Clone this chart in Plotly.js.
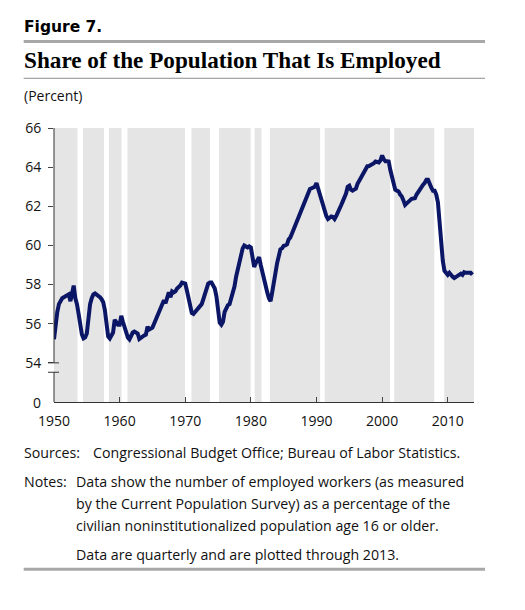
<!DOCTYPE html>
<html>
<head>
<meta charset="utf-8">
<script src="https://cdn.plot.ly/plotly-3.0.1.min.js"></script>
<style>
  html, body { margin: 0; padding: 0; background: #ffffff; }
  #chart { width: 525px; height: 610px; }
</style>
</head>
<body>
<div id="chart"></div>
<script>
// ---- Data (quarterly, 1950 Q1 through 2013 Q4) ----
const firstYear = 1950;
const employmentRate = [
  55.2, 56.0, 56.6, 57.0,     // 1950
  57.2, 57.3, 57.35, 57.4,    // 1951
  57.4, 57.5, 57.15, 57.5,    // 1952
  57.95, 57.3, 57.0, 56.5,    // 1953
  55.9, 55.45, 55.25, 55.3,   // 1954
  55.5, 56.3, 57.0, 57.3,     // 1955
  57.5, 57.55, 57.5, 57.45,   // 1956
  57.35, 57.25, 57.1, 56.7,   // 1957
  55.9, 55.35, 55.25, 55.4,   // 1958
  55.55, 56.2, 56.1, 55.95,   // 1959
  55.95, 56.4, 56.1, 55.8,    // 1960
  55.55, 55.3, 55.2, 55.4,    // 1961
  55.55, 55.6, 55.55, 55.5,   // 1962
  55.22, 55.3, 55.38, 55.4,   // 1963
  55.44, 55.85, 55.7, 55.75,  // 1964
  55.8, 56.0, 56.2, 56.5,     // 1965
  56.7, 56.8, 57.0, 57.2,     // 1966
  57.05, 57.3, 57.6, 57.35,   // 1967
  57.65, 57.6, 57.65, 57.8,   // 1968
  57.85, 57.95, 58.1, 58.1,   // 1969
  58.05, 57.7, 57.3, 56.9,    // 1970
  56.55, 56.5, 56.6, 56.7,    // 1971
  56.8, 56.9, 57.0, 57.25,    // 1972
  57.5, 57.8, 58.05, 58.1,    // 1973
  58.1, 57.95, 57.8, 57.4,    // 1974
  56.55, 56.05, 55.95, 56.1,  // 1975
  56.6, 56.85, 56.95, 57.0,   // 1976
  57.25, 57.6, 57.9, 58.4,    // 1977
  58.8, 59.25, 59.5, 59.85,   // 1978
  60.0, 59.95, 59.9, 59.95,   // 1979
  59.9, 59.4, 58.9, 59.1,     // 1980
  59.25, 59.4, 59.0, 58.6,    // 1981
  58.2, 57.9, 57.6, 57.3,     // 1982
  57.15, 57.6, 58.0, 58.6,    // 1983
  59.1, 59.6, 59.8, 59.85,    // 1984
  59.98, 60.0, 60.05, 60.3,   // 1985
  60.4, 60.6, 60.8, 61.0,     // 1986
  61.2, 61.45, 61.7, 61.85,   // 1987
  62.0, 62.2, 62.45, 62.7,    // 1988
  62.88, 62.92, 62.95, 63.0,  // 1989
  63.18, 62.9, 62.6, 62.25,   // 1990
  61.9, 61.65, 61.5, 61.35,   // 1991
  61.4, 61.48, 61.45, 61.35,  // 1992
  61.5, 61.65, 61.85, 62.05,  // 1993
  62.25, 62.45, 62.65, 63.0,  // 1994
  63.05, 62.85, 62.8, 62.85,  // 1995
  62.9, 63.15, 63.35, 63.45,  // 1996
  63.6, 63.75, 63.95, 64.05,  // 1997
  64.06, 64.1, 64.12, 64.2,   // 1998
  64.29, 64.25, 64.24, 64.35, // 1999
  64.6, 64.4, 64.3, 64.3,     // 2000
  64.29, 63.85, 63.5, 63.0,   // 2001
  62.85, 62.8, 62.76, 62.6,   // 2002
  62.5, 62.3, 62.07, 62.15,   // 2003
  62.25, 62.33, 62.38, 62.4,  // 2004
  62.41, 62.6, 62.75, 62.85,  // 2005
  62.95, 63.1, 63.2, 63.35,   // 2006
  63.35, 63.1, 62.95, 62.8,   // 2007
  62.8, 62.6, 62.2, 61.2,     // 2008
  60.0, 59.2, 58.7, 58.55,    // 2009
  58.5, 58.6, 58.45, 58.4,    // 2010
  58.33, 58.4, 58.45, 58.5,   // 2011
  58.56, 58.5, 58.63, 58.6,   // 2012
  58.59, 58.6, 58.6, 58.5     // 2013
];

// Recessions (shown as white bands), in fractional years
const recessionStart = [1953.58, 1957.62, 1960.29, 1969.96, 1973.76, 1979.96, 1981.62, 1990.55, 2001.20, 2007.95];
const recessionEnd   = [1954.42, 1958.36, 1961.19, 1970.94, 1975.15, 1980.58, 1982.90, 1991.25, 2001.84, 2009.47];

// Axis ticks
const xTickVals = [1950, 1960, 1970, 1980, 1990, 2000, 2010];
const xTickText = ["1950", "1960", "1970", "1980", "1990", "2000", "2010"];
const yTickVals = [54, 56, 58, 60, 62, 64, 66];
const yTickText = ["54", "56", "58", "60", "62", "64", "66"];
const yZeroLabel = "0";

// Texts
const figLabel = "Figure 7.";
const titleText = "Share of the Population That Is Employed";
const unitText = "(Percent)";
const sourcesLabel = "Sources:";
const sourcesText = "Congressional Budget Office; Bureau of Labor Statistics.";
const notesLabel = "Notes:";
const notesLines = [
  "Data show the number of employed workers (as measured",
  "by the Current Population Survey) as a percentage of the",
  "civilian noninstitutionalized population age 16 or older."
];
const notesLast = "Data are quarterly and are plotted through 2013.";

// ---- Geometry (pixels) ----
const W = 525, H = 610;
const L = 54.3, R = 474, T = 128.1, B = 402.5;
const yMin = 52, yMax = 66;   // bottom of axis shown as "0" (broken axis)
const breakVal = 53.52;
function px(x) { return (x - L) / (R - L); }
function py(y) { return (B - y) / (B - T); }

const xs = employmentRate.map((v, i) => firstYear + i / 4);

const trace = {
  type: "scatter",
  mode: "lines",
  x: xs,
  y: employmentRate,
  line: { color: "#0b1766", width: 4 },
  hoverinfo: "skip",
  showlegend: false
};

const shapes = [];
// recession bands
for (let i = 0; i < recessionStart.length; i++) {
  shapes.push({
    type: "rect", xref: "x", yref: "paper",
    x0: recessionStart[i], x1: recessionEnd[i], y0: 0, y1: 1,
    fillcolor: "#ffffff", line: { width: 0 }, layer: "below"
  });
}
// broken y axis line
shapes.push({ type: "line", xref: "paper", yref: "y", x0: 0, x1: 0, y0: yMin, y1: breakVal, line: { color: "#333333", width: 1 } });
shapes.push({ type: "line", xref: "paper", yref: "y", x0: 0, x1: 0, y0: 54, y1: yMax, line: { color: "#333333", width: 1 } });
// break marks
[54, breakVal].forEach(v => {
  shapes.push({ type: "line", xref: "paper", xsizemode: "pixel", xanchor: 0, x0: -6, x1: 5,
    yref: "y", y0: v, y1: v, line: { color: "#333333", width: 1 } });
});
// horizontal rules
function rule(y, w, c) {
  return { type: "line", xref: "paper", yref: "paper", x0: px(24), x1: px(485), y0: py(y), y1: py(y),
    line: { color: c, width: w } };
}
shapes.push(rule(41.5, 3, "#a8a8a8"));
shapes.push(rule(78.3, 1, "#8c8c8c"));
shapes.push(rule(570, 3, "#a8a8a8"));

const bodyFont = "Open Sans, Noto Sans, sans-serif";
function ann(text, x, y, size, opts) {
  return Object.assign({
    text: text, xref: "paper", yref: "paper", x: px(x), y: py(y),
    xanchor: "left", yanchor: "middle", showarrow: false,
    font: { family: bodyFont, size: size, color: "#111111" }
  }, opts || {});
}

const annotations = [
  ann("<b>" + figLabel + "</b>", 22.5, 27, 15.5, { font: { family: "DejaVu Sans", size: 15.5, color: "#000000" } }),
  ann("<b>" + titleText + "</b>", 22.5, 59.5, 23.2, { font: { family: "Liberation Serif", size: 23.2, color: "#000000" } }),
  ann(unitText, 22.5, 95.5, 14),
  ann(yZeroLabel, 43.5, 402.5, 14, { xanchor: "right" }),
  ann(sourcesLabel, 22.5, 453, 14.2),
  ann(sourcesText, 91.5, 453, 14.2),
  ann(notesLabel, 22.5, 482, 14.2),
  ann(notesLines[0], 74.5, 482, 14.2),
  ann(notesLines[1], 74.5, 504, 14.2),
  ann(notesLines[2], 74.5, 526, 14.2),
  ann(notesLast, 74.5, 555, 14.2)
];

const layout = {
  width: W, height: H,
  margin: { l: L, r: W - R, t: T, b: H - B, pad: 0 },
  paper_bgcolor: "#ffffff",
  plot_bgcolor: "#e5e5e5",
  showlegend: false,
  xaxis: {
    range: [1950, 2014],
    tickvals: xTickVals, ticktext: xTickText,
    ticks: "inside", ticklen: 5, tickcolor: "#444444", tickwidth: 1,
    showline: true, linecolor: "#333333", linewidth: 1,
    showgrid: false, zeroline: false,
    ticklabelstandoff: 6,
    tickfont: { family: bodyFont, size: 14, color: "#111111" },
    fixedrange: true
  },
  yaxis: {
    range: [yMin, yMax],
    tickvals: yTickVals, ticktext: yTickText,
    ticks: "outside", ticklen: 5, tickcolor: "#444444", tickwidth: 1,
    showline: false, showgrid: false, zeroline: false,
    ticklabelstandoff: 4,
    tickfont: { family: bodyFont, size: 14, color: "#111111" },
    fixedrange: true
  },
  shapes: shapes,
  annotations: annotations
};

Plotly.newPlot("chart", [trace], layout, { staticPlot: true, displayModeBar: false });
</script>
</body>
</html>
